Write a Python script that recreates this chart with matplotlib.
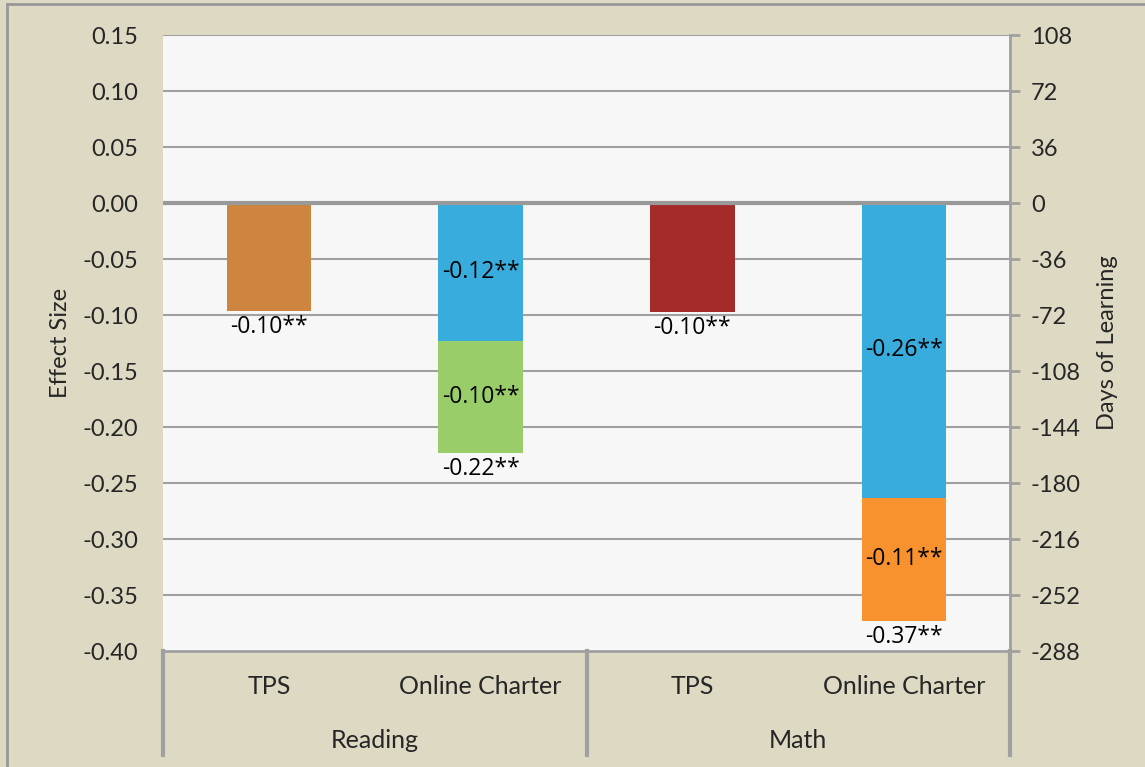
import numpy as np
import matplotlib
matplotlib.use('Agg')
import matplotlib.pyplot as plt
from matplotlib.lines import Line2D

plt.rcParams['font.family'] = ['Lato', 'DejaVu Sans']

# Data
subjects = ['Reading', 'Math']
sectors = ['TPS', 'Online Charter', 'TPS', 'Online Charter']
first_seg = [-0.096, -0.123, -0.097, -0.263]
second_seg = [0.0, -0.100, 0.0, -0.110]
first_labels = ['', '-0.12**', '', '-0.26**']
second_labels = ['', '-0.10**', '', '-0.11**']
total_labels = ['-0.10**', '-0.22**', '-0.10**', '-0.37**']
first_colors = ['#CD853F', '#38ACDC', '#A52A2A', '#38ACDC']
second_colors = ['#CD853F', '#98CD6A', '#A52A2A', '#F7922F']
left_ticks = np.arange(-0.40, 0.151, 0.05)
days_per_sd = 720

bg = '#DDD9C3'
grid_c = '#A0A0A0'
text_c = '#262626'
lab_font = ['Open Sans', 'DejaVu Sans']

fig = plt.figure(figsize=(11.45, 7.67), dpi=100, facecolor=bg)
ax = fig.add_axes([163 / 1145, 1 - 651 / 767, 847 / 1145, 616 / 767])
ax.set_facecolor('#F7F7F7')

x = np.arange(len(sectors))
w = 0.40
ax.bar(x, first_seg, width=w, color=first_colors, zorder=3)
ax.bar(x, second_seg, width=w, bottom=first_seg, color=second_colors, zorder=3)

ax.set_xlim(-0.5, len(sectors) - 0.5)
ax.set_ylim(-0.40, 0.15)
ax.set_yticks(left_ticks)
ax.set_yticklabels([f'{abs(t):.2f}' if abs(t) < 1e-9 else f'{t:.2f}' for t in left_ticks])
for t in left_ticks:
    if abs(t) < 1e-9:
        ax.axhline(0, color='#999999', lw=3, zorder=4)
    elif t > -0.39:
        ax.axhline(t, color=grid_c, lw=1.5, zorder=1)

ax.tick_params(axis='y', length=0, pad=18, labelsize=17, labelcolor=text_c)
ax.set_xticks([])
for s in ['top', 'left', 'right']:
    ax.spines[s].set_visible(False)
ax.spines['bottom'].set_color(grid_c)
ax.spines['bottom'].set_linewidth(2)

# Bar labels
for i in range(len(sectors)):
    if first_labels[i]:
        ax.text(x[i], first_seg[i] / 2, first_labels[i], ha='center', va='center',
                fontsize=16.5, color='black', zorder=5, family=lab_font)
        ax.text(x[i], first_seg[i] + second_seg[i] / 2, second_labels[i], ha='center',
                va='center', fontsize=16.5, color='black', zorder=5, family=lab_font)
    total = first_seg[i] + second_seg[i]
    ax.text(x[i], total - 0.004, total_labels[i], ha='center', va='top',
            fontsize=16.5, color='black', zorder=5, family=lab_font)

ax.set_ylabel('Effect Size', fontsize=17, color=text_c, labelpad=8)

# Right axis: days of learning
ax2 = ax.twinx()
ax2.set_ylim(-0.40 * days_per_sd, 0.15 * days_per_sd)
right_ticks = left_ticks * days_per_sd
ax2.set_yticks(right_ticks)
ax2.set_yticklabels([f'{int(round(t))}' for t in right_ticks])
ax2.tick_params(axis='y', length=7, width=2, color=grid_c, pad=8,
                labelsize=17, labelcolor=text_c)
for s in ['top', 'left', 'bottom']:
    ax2.spines[s].set_visible(False)
ax2.spines['right'].set_color(grid_c)
ax2.spines['right'].set_linewidth(2)
ax2.set_ylabel('Days of Learning', fontsize=17, color=text_c, labelpad=12)

# Category axis
tr = ax.get_xaxis_transform()
for i, s in enumerate(sectors):
    ax.text(x[i], -36 / 616, s, transform=tr, ha='center', va='center',
            fontsize=18, color=text_c)
for j, subj in enumerate(subjects):
    ax.text(2 * j + 0.5, -89 / 616, subj, transform=tr, ha='center', va='center',
            fontsize=18, color=text_c)
for xs in [-0.5, 1.5, 3.5]:
    ax.add_line(Line2D([xs, xs], [0, -104 / 616], transform=tr, color=grid_c,
                       lw=3, clip_on=False))

# Figure border (left and top)
fig.add_artist(Line2D([7 / 1145, 7 / 1145], [0, 1 - 4 / 767], color='#999999', lw=2,
                      transform=fig.transFigure))
fig.add_artist(Line2D([7 / 1145, 1], [1 - 4 / 767, 1 - 4 / 767], color='#999999', lw=2,
                      transform=fig.transFigure))

plt.savefig('out.png', dpi=100, facecolor=bg)
